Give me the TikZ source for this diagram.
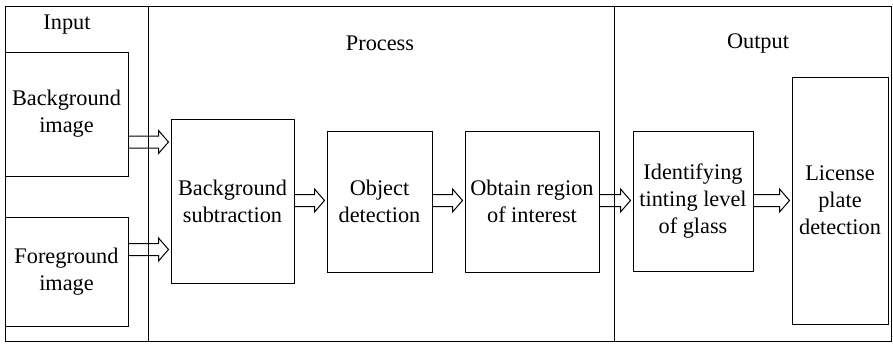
\documentclass[tikz,border=0pt]{standalone}
\usepackage{fontspec}
\setmainfont{Liberation Serif}
\usetikzlibrary{calc}

\tikzset{
  stage/.style={draw, line width=1pt, inner sep=0pt, align=center,
    font=\fontsize{22.3}{27}\selectfont},
  heading/.style={inner sep=0pt, font=\fontsize{22.3}{27}\selectfont},
  frame/.style={draw, line width=1pt},
  flow/.style={draw, line width=1pt, line join=miter},
}

% hollow block arrow: from the x of #1 to just short of the x of #2, at the height of #3
\newcommand\hollowarrow[3]{%
  \draw[flow] let \p1=(#1), \p2=(#2), \p3=(#3) in
    (\x1,\y3+6pt) -- (\x2-12pt,\y3+6pt) -- (\x2-12pt,\y3+11.5pt)
    -- (\x2-2pt,\y3) -- (\x2-12pt,\y3-11.5pt) -- (\x2-12pt,\y3-6pt)
    -- (\x1,\y3-6pt);}

\begin{document}
\begin{tikzpicture}[x=1pt, y=-1pt]
  \useasboundingbox (0,0) rectangle (893,343);

  % outer frame and the three columns
  \draw[frame] (5,6) rectangle (891,341);
  \draw[frame] (148,6) -- (148,341);
  \draw[frame] (614,6) -- (614,341);

  \node[heading] (hin)  at (67,25)  {Input};
  \node[heading] (hpro) at (380,43) {Process};
  \node[heading] (hout) at (758,43) {Output};

  % stages
  \node[stage, minimum width=123pt, minimum height=124pt] (bgimg) at (66.5,114)   {Background\\image};
  \node[stage, minimum width=123pt, minimum height=109pt] (fgimg) at (66.5,271.5) {Foreground\\image};
  \node[stage, minimum width=123pt, minimum height=164pt] (bgsub) at (232.5,201)  {Background\\subtraction};
  \node[stage, minimum width=105pt, minimum height=141pt] (objdet) at (379.5,201.5) {Object\\detection};
  \node[stage, minimum width=134pt, minimum height=141pt] (roi) at (532,201.5)    {Obtain region\\of interest};
  \node[stage, minimum width=120pt, minimum height=140pt] (tint) at (693,201)     {Identifying\\tinting level\\of glass};
  \node[stage, minimum width=96pt, minimum height=247pt] (lpd) at (840,200.5)     {License\\plate\\detection};

  % arrow heights
  \coordinate (a1) at (0,142);
  \coordinate (a2) at (0,249.5);
  \coordinate (a3) at (0,200.5);

  \hollowarrow{bgimg.east}{bgsub.west}{a1}
  \hollowarrow{fgimg.east}{bgsub.west}{a2}
  \hollowarrow{bgsub.east}{objdet.west}{a3}
  \hollowarrow{objdet.east}{roi.west}{a3}
  \hollowarrow{roi.east}{tint.west}{a3}
  \hollowarrow{tint.east}{lpd.west}{a3}
\end{tikzpicture}
\end{document}
